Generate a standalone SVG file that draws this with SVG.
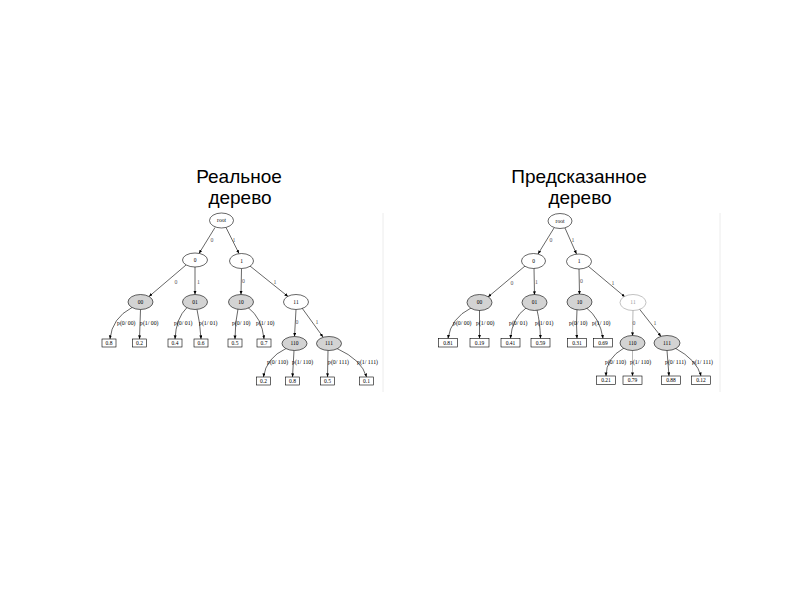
<svg xmlns="http://www.w3.org/2000/svg" width="800" height="600" viewBox="0 0 800 600">
<defs>
<marker id="a" markerUnits="userSpaceOnUse" markerWidth="4" markerHeight="4" refX="3.6" refY="1.5" orient="auto">
<path d="M0,0 L3.6,1.5 L0,3 z" fill="#000"/>
</marker>
<style>
.title{font-family:"Liberation Sans",Arial,sans-serif;font-size:19px;text-anchor:middle;fill:#000}
.e{fill:none;stroke:#000;stroke-width:0.6;marker-end:url(#a)}
.f{fill:none;stroke:#888;stroke-width:0.6;marker-end:url(#a)}
.w{fill:#fff;stroke:#000;stroke-width:0.6}
.g{fill:#d3d3d3;stroke:#000;stroke-width:0.6}
.wf{fill:#fff;stroke:#999;stroke-width:0.6}
.b{fill:#fff;stroke:#000;stroke-width:0.6}
.t{font-family:"Liberation Serif","Times New Roman",serif;font-size:5.5px;text-anchor:middle;fill:#000}
.tf{font-family:"Liberation Serif","Times New Roman",serif;font-size:5.5px;text-anchor:middle;fill:#999}
.l{font-family:"Liberation Serif","Times New Roman",serif;font-size:5.8px;fill:#000}
.lm{font-family:"Liberation Serif","Times New Roman",serif;font-size:5.8px;fill:#555;text-anchor:middle}
.panel{stroke:#ececec;stroke-width:1}
</style>
</defs>
<rect width="800" height="600" fill="#fff"/>

<text class="title" x="239" y="183">Реальное</text>
<text class="title" x="240" y="204">дерево</text>
<text class="title" x="579" y="183">Предсказанное</text>
<text class="title" x="580" y="204">дерево</text>

<line class="panel" x1="383" y1="213" x2="383" y2="392"/>
<line class="panel" x1="720" y1="213" x2="720" y2="392"/>

<!-- LEFT TREE -->
<g id="left-connectors">
<path class="e" d="M215,227.5 L199,253.5"/>
<path class="e" d="M226,227.5 L239,253.5"/>
<path class="e" d="M186,265 L149,296.5"/>
<path class="e" d="M195,267 L195,294.5"/>
<path class="e" d="M241.5,268.5 L241,294.5"/>
<path class="e" d="M250,266 L288,296.5"/>
<path class="e" d="M296,309.5 L294.5,336.5"/>
<path class="e" d="M302,308 L323,337"/>
<path class="e" d="M132,307.5 Q112,318 110,339"/>
<path class="e" d="M140.5,309.5 L139.5,339"/>
<path class="e" d="M187,307.5 Q176,318 175,339"/>
<path class="e" d="M197,309.5 Q200,322 201,339"/>
<path class="e" d="M238,309 Q235,322 235,339"/>
<path class="e" d="M248,307.5 Q262,318 264,339"/>
<path class="e" d="M286,348.5 Q266,358 263.5,377"/>
<path class="e" d="M294,350.5 L292.5,377"/>
<path class="e" d="M328,350.5 L327.5,377"/>
<path class="e" d="M337,348.5 Q362,360 366.5,377"/>
<text class="lm" x="212" y="242">0</text>
<text class="lm" x="234" y="242">1</text>
<text class="lm" x="176" y="284">0</text>
<text class="lm" x="198.5" y="284">1</text>
<text class="lm" x="243.5" y="283">0</text>
<text class="lm" x="275" y="284">1</text>
<text class="lm" x="297" y="324">0</text>
<text class="lm" x="317" y="324">1</text>
<text class="l" x="117" y="325">p(0/ 00)</text>
<text class="l" x="140" y="325">p(1/ 00)</text>
<text class="l" x="174" y="325">p(0/ 01)</text>
<text class="l" x="199" y="325">p(1/ 01)</text>
<text class="l" x="232" y="325">p(0/ 10)</text>
<text class="l" x="256" y="325">p(1/ 10)</text>
<text class="l" x="267" y="364">p(0/ 110)</text>
<text class="l" x="292" y="364">p(1/ 110)</text>
<text class="l" x="328" y="364">p(0/ 111)</text>
<text class="l" x="357" y="364">p(1/ 111)</text>
</g>
<g id="L-root"><ellipse class="w" cx="221.5" cy="220.5" rx="12" ry="7.5"/><text class="t" x="221.5" y="222.2">root</text></g>
<g id="L-0"><ellipse class="w" cx="195" cy="260" rx="12.5" ry="7"/><text class="t" x="195" y="261.8">0</text></g>
<g id="L-1"><ellipse class="w" cx="241.5" cy="261" rx="12" ry="7.5"/><text class="t" x="241.5" y="262.8">1</text></g>
<g id="L-00"><ellipse class="g" cx="140.5" cy="302" rx="12.5" ry="7.5"/><text class="t" x="140.5" y="303.8">00</text></g>
<g id="L-01"><ellipse class="g" cx="195" cy="302" rx="12.5" ry="7.5"/><text class="t" x="195" y="303.8">01</text></g>
<g id="L-10"><ellipse class="g" cx="241" cy="302" rx="12.5" ry="7.5"/><text class="t" x="241" y="303.8">10</text></g>
<g id="L-11"><ellipse class="w" cx="296" cy="302" rx="12.5" ry="7.5"/><text class="t" x="296" y="303.8">11</text></g>
<g id="L-110"><ellipse class="g" cx="294.5" cy="343.5" rx="12.5" ry="7"/><text class="t" x="294.5" y="345.3">110</text></g>
<g id="L-111"><ellipse class="g" cx="329" cy="343.5" rx="12.5" ry="7"/><text class="t" x="329" y="345.3">111</text></g>
<g id="L-b1"><rect class="b" x="102" y="339" width="14" height="8"/><text class="t" x="109" y="344.8">0.8</text></g>
<g id="L-b2"><rect class="b" x="132.5" y="339" width="14" height="8"/><text class="t" x="139.5" y="344.8">0.2</text></g>
<g id="L-b3"><rect class="b" x="168" y="339" width="14" height="8"/><text class="t" x="175" y="344.8">0.4</text></g>
<g id="L-b4"><rect class="b" x="194" y="339" width="14" height="8"/><text class="t" x="201" y="344.8">0.6</text></g>
<g id="L-b5"><rect class="b" x="228" y="339" width="14" height="8"/><text class="t" x="235" y="344.8">0.5</text></g>
<g id="L-b6"><rect class="b" x="257" y="339" width="14" height="8"/><text class="t" x="264" y="344.8">0.7</text></g>
<g id="L-b7"><rect class="b" x="256.5" y="377" width="14" height="8"/><text class="t" x="263.5" y="382.8">0.2</text></g>
<g id="L-b8"><rect class="b" x="285.5" y="377" width="14" height="8"/><text class="t" x="292.5" y="382.8">0.8</text></g>
<g id="L-b9"><rect class="b" x="320.5" y="377" width="14" height="8"/><text class="t" x="327.5" y="382.8">0.5</text></g>
<g id="L-b10"><rect class="b" x="359.5" y="377" width="14" height="8"/><text class="t" x="366.5" y="382.8">0.1</text></g>

<!-- RIGHT TREE -->
<g id="right-connectors">
<path class="e" d="M554,228 L538,254"/>
<path class="e" d="M565,228 L576.5,254"/>
<path class="e" d="M525,266 L488,297"/>
<path class="e" d="M534,268 L534.5,295"/>
<path class="e" d="M579,269 L579.5,294.5"/>
<path class="e" d="M588,266 L625,297"/>
<path class="f" d="M633,310 L632.5,336"/>
<path class="e" d="M639,308.5 L661,336.5"/>
<path class="e" d="M471,308 Q451,318 448,338.5"/>
<path class="e" d="M479.5,310 L479.5,338.5"/>
<path class="e" d="M526,308 Q512,318 510.5,338.5"/>
<path class="e" d="M537,310 Q540,322 540.5,338.5"/>
<path class="e" d="M577,309.5 Q576,322 577,338.5"/>
<path class="e" d="M586,307.5 Q600,318 603,338.5"/>
<path class="e" d="M624,348 Q606,358 606,376"/>
<path class="f" d="M632.5,350 L632.5,376"/>
<path class="e" d="M667,350.5 L669,376"/>
<path class="e" d="M675,348 Q697,360 701,376"/>
<text class="lm" x="551" y="242">0</text>
<text class="lm" x="573" y="242">1</text>
<text class="lm" x="512" y="285">0</text>
<text class="lm" x="536.5" y="284">1</text>
<text class="lm" x="581.5" y="283">0</text>
<text class="lm" x="613" y="285">1</text>
<text class="lm" x="634" y="325">0</text>
<text class="lm" x="655" y="325">1</text>
<text class="l" x="453" y="325">p(0/ 00)</text>
<text class="l" x="476" y="325">p(1/ 00)</text>
<text class="l" x="509" y="325">p(0/ 01)</text>
<text class="l" x="535" y="325">p(1/ 01)</text>
<text class="l" x="569" y="325">p(0/ 10)</text>
<text class="l" x="592" y="325">p(1/ 10)</text>
<text class="l" x="605" y="364">p(0/ 110)</text>
<text class="l" x="630" y="364">p(1/ 110)</text>
<text class="l" x="665" y="364">p(0/ 111)</text>
<text class="l" x="692" y="364">p(1/ 111)</text>
</g>
<g id="R-root"><ellipse class="w" cx="560" cy="221" rx="12" ry="7.5"/><text class="t" x="560" y="222.8">root</text></g>
<g id="R-0"><ellipse class="w" cx="533.5" cy="261" rx="12" ry="7.5"/><text class="t" x="533.5" y="262.8">0</text></g>
<g id="R-1"><ellipse class="w" cx="579" cy="261.5" rx="12.5" ry="7.5"/><text class="t" x="579" y="263.3">1</text></g>
<g id="R-00"><ellipse class="g" cx="479.5" cy="302.5" rx="12.5" ry="8"/><text class="t" x="479.5" y="304.3">00</text></g>
<g id="R-01"><ellipse class="g" cx="534.5" cy="302.5" rx="12.5" ry="8"/><text class="t" x="534.5" y="304.3">01</text></g>
<g id="R-10"><ellipse class="g" cx="579.5" cy="302" rx="12.5" ry="8"/><text class="t" x="579.5" y="303.8">10</text></g>
<g id="R-11"><ellipse class="wf" cx="633" cy="302.5" rx="13" ry="8"/><text class="tf" x="633" y="304.3">11</text></g>
<g id="R-110"><ellipse class="g" cx="632.5" cy="343" rx="12.5" ry="7.5"/><text class="t" x="632.5" y="344.8">110</text></g>
<g id="R-111"><ellipse class="g" cx="667" cy="343" rx="13" ry="7.5"/><text class="t" x="667" y="344.8">111</text></g>
<g id="R-b1"><rect class="b" x="438.5" y="338.5" width="19" height="8.5"/><text class="t" x="448" y="344.6">0.81</text></g>
<g id="R-b2"><rect class="b" x="470" y="338.5" width="19" height="8.5"/><text class="t" x="479.5" y="344.6">0.19</text></g>
<g id="R-b3"><rect class="b" x="501" y="338.5" width="19" height="8.5"/><text class="t" x="510.5" y="344.6">0.41</text></g>
<g id="R-b4"><rect class="b" x="531" y="338.5" width="19" height="8.5"/><text class="t" x="540.5" y="344.6">0.59</text></g>
<g id="R-b5"><rect class="b" x="567.5" y="338.5" width="19" height="8.5"/><text class="t" x="577" y="344.6">0.31</text></g>
<g id="R-b6"><rect class="b" x="593.5" y="338.5" width="19" height="8.5"/><text class="t" x="603" y="344.6">0.69</text></g>
<g id="R-b7"><rect class="b" x="596.5" y="376" width="19" height="8.5"/><text class="t" x="606" y="382.1">0.21</text></g>
<g id="R-b8"><rect class="b" x="623" y="376" width="19" height="8.5"/><text class="t" x="632.5" y="382.1">0.79</text></g>
<g id="R-b9"><rect class="b" x="661.5" y="376" width="19" height="8.5"/><text class="t" x="671" y="382.1">0.88</text></g>
<g id="R-b10"><rect class="b" x="691.5" y="376" width="19" height="8.5"/><text class="t" x="701" y="382.1">0.12</text></g>
</svg>
